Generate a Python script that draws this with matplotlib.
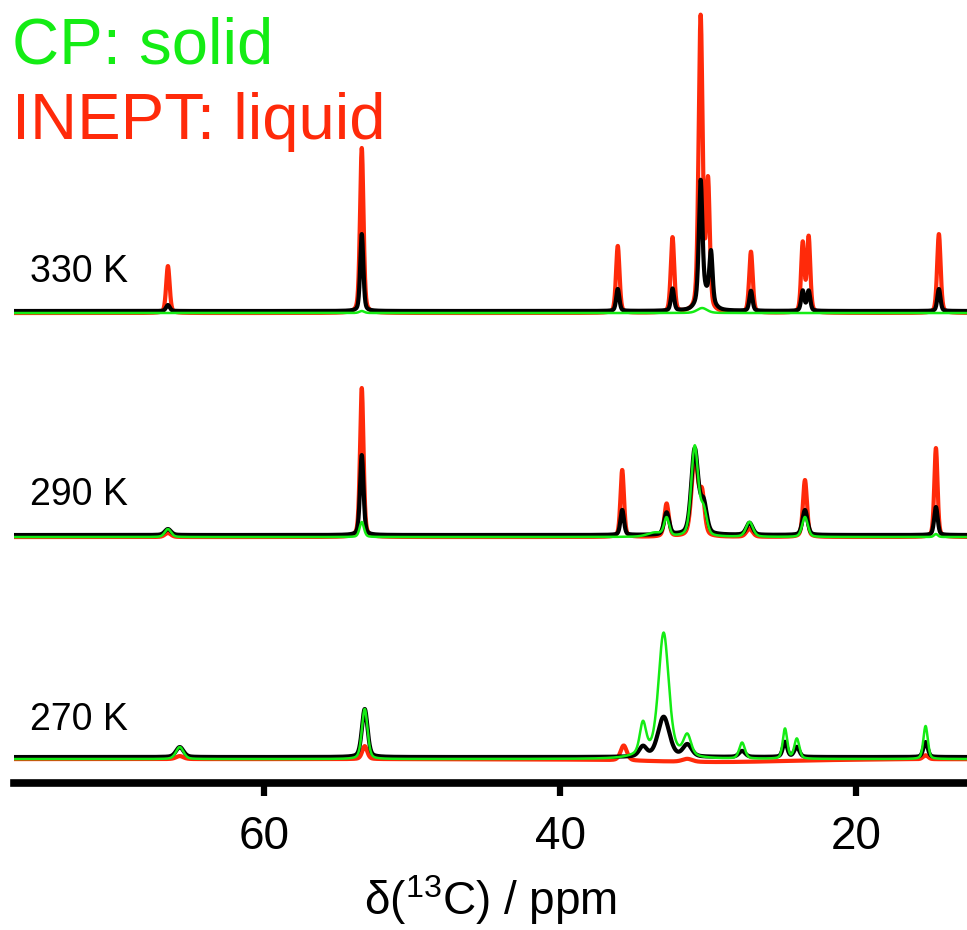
import matplotlib
matplotlib.use("Agg")
import matplotlib.pyplot as plt
import numpy as np

plt.rcParams['font.family'] = ['Liberation Sans', 'DejaVu Sans']
plt.rcParams['mathtext.fontset'] = 'custom'
plt.rcParams['mathtext.rm'] = 'Liberation Sans'

RED = '#ff2a0a'
GREEN = '#14ec14'
BLACK = '#000000'

# temperatures and vertical offset of each spectrum (intensity units)
temps = ['330 K', '290 K', '270 K']
offsets = [471, 247, 25]
label_y = [501, 278, 53]

# peak tables: (shift ppm, height, fwhm ppm)
red_330 = [(66.5, 47, 0.28), (53.4, 165, 0.28), (36.1, 67, 0.28), (32.4, 75, 0.28),
           (30.5, 295, 0.32), (30.0, 127, 0.28), (27.1, 61, 0.28), (23.6, 69, 0.26),
           (23.2, 75, 0.26), (14.4, 79, 0.28)]
black_330 = [(66.5, 6, 0.3), (53.4, 77, 0.25), (36.1, 22, 0.25), (32.4, 22, 0.25),
             (30.5, 117, 0.28), (30.2, 18, 1.0), (29.8, 48, 0.25), (27.1, 20, 0.25),
             (23.6, 20, 0.25), (23.2, 20, 0.25), (14.4, 22, 0.25)]
green_330 = [(30.4, 5, 0.8), (53.4, 2, 0.4)]

red_290 = [(66.5, 4, 0.5), (53.4, 149, 0.28), (35.8, 67, 0.28), (32.8, 33, 0.35),
           (30.9, 80, 0.5), (30.4, 40, 0.4), (27.2, 8, 0.5), (23.45, 57, 0.32),
           (14.6, 89, 0.26)]
black_290 = [(66.5, 6, 0.5), (53.4, 80, 0.28), (35.8, 25, 0.28), (32.8, 22, 0.4),
             (30.9, 85, 0.55), (30.3, 30, 0.5), (27.2, 12, 0.5), (23.45, 25, 0.4),
             (14.6, 28, 0.28)]
green_290 = [(66.5, 8, 0.5), (53.4, 15, 0.35), (33.6, 4, 1.2), (32.8, 18, 0.4),
             (30.9, 90, 0.55), (30.3, 25, 0.5), (27.2, 15, 0.55), (23.45, 20, 0.45),
             (14.6, 3, 0.3)]

red_270 = [(65.7, 3, 0.6), (53.2, 13, 0.4), (35.7, 15, 0.5), (31.4, 3, 0.8),
           (15.3, 4, 0.4), (29.5, -3, 12.0)]
black_270 = [(65.7, 10, 0.6), (53.2, 48, 0.45), (34.4, 10, 0.6), (33.0, 40, 0.9),
             (31.4, 12, 0.7), (27.7, 6, 0.5), (24.8, 15, 0.35), (24.0, 10, 0.4),
             (15.3, 15, 0.35)]
green_270 = [(65.7, 12, 0.6), (53.2, 50, 0.45), (34.4, 30, 0.5), (33.0, 118, 0.8),
             (31.4, 20, 0.6), (27.7, 16, 0.45), (24.8, 30, 0.35), (24.0, 20, 0.4),
             (15.3, 33, 0.35), (33.2, 8, 3.0)]

spectra = [(red_330, black_330, green_330),
           (red_290, black_290, green_290),
           (red_270, black_270, green_270)]

ppm = np.linspace(77, 12, 5000)


def line_shape(peaks):
    y = np.zeros_like(ppm)
    for c, h, w in peaks:
        hw = w / 2.0
        lor = 1.0 / (1.0 + ((ppm - c) / hw) ** 2)
        gau = np.exp(-np.log(2) * ((ppm - c) / hw) ** 2)
        y += h * (0.65 * gau + 0.35 * lor)
    return y


fig = plt.figure(figsize=(9.67, 9.30), dpi=100)
ax = fig.add_axes([0.0145, 0.158, 0.9855, 0.842])

for (red, black, green), off, t, ly in zip(spectra, offsets, temps, label_y):
    ax.plot(ppm, off - 1 + line_shape(red), color=RED, lw=3.0, zorder=2)
    ax.plot(ppm, off + 1 + line_shape(black), color=BLACK, lw=3.0, zorder=3)
    ax.plot(ppm, off - 1 + line_shape(green), color=GREEN, lw=1.8, zorder=4)
    ax.text(75.8, ly, t, fontsize=27, color='black', va='baseline', ha='left')

ax.set_xlim(76.9, 12.5)
ax.set_ylim(0, 783)
ax.set_yticks([])
ax.set_xticks([60, 40, 20])
for s in ['left', 'right', 'top']:
    ax.spines[s].set_visible(False)
ax.spines['bottom'].set_linewidth(5.5)
ax.tick_params(axis='x', length=9, width=4.5, labelsize=33, pad=14)
ax.set_xlabel(r'δ($^{\mathregular{13}}$C) / ppm', fontsize=33, labelpad=10)

fig.text(0.012, 1 - 63 / 930, 'CP: solid', color=GREEN, fontsize=47, va='baseline')
fig.text(0.012, 1 - 139 / 930, 'INEPT: liquid', color=RED, fontsize=47, va='baseline')

fig.savefig('out.png', dpi=100)
